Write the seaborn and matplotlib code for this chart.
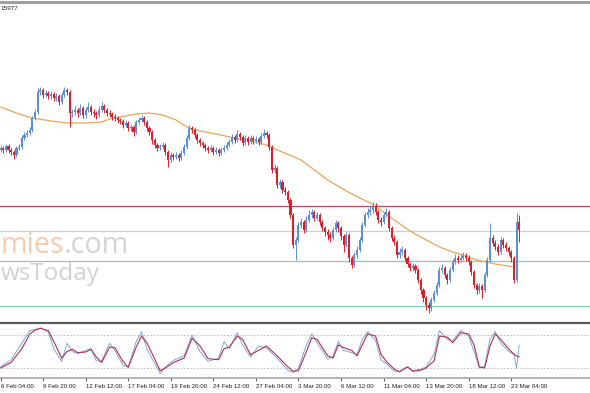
import numpy as np
import pandas as pd
import matplotlib
matplotlib.use("Agg")
import matplotlib.pyplot as plt
import seaborn as sns
from matplotlib.lines import Line2D

# ---------------- data (price in chart points) ----------------
first_open = 180
close = [182,180,184,180,178,175,182,183,192,195,
         197,200,212,218,238,240,235,237,234,236,
         232,234,228,235,240,238,217,218,220,217,
         222,215,220,223,218,217,215,220,224,220,
         217,216,213,212,210,209,205,207,202,203,
         198,208,210,212,208,202,198,190,185,182,
         183,185,178,170,175,173,175,172,177,183,
         192,202,200,195,190,187,185,182,180,182,
         178,180,177,180,182,185,188,193,190,196,
         193,187,192,188,192,189,191,188,194,197,
         195,183,160,162,145,148,140,138,130,115,
         85,90,105,108,100,110,115,118,112,115,
         108,102,98,95,92,100,107,102,94,85,
         95,72,65,75,80,90,105,115,118,120,
         124,118,110,108,115,118,102,92,88,75,
         78,80,72,66,62,64,60,50,40,32,
         25,22,30,37,45,60,62,55,50,60,
         68,72,70,72,74,72,68,58,45,40,
         44,40,55,70,92,87,83,78,90,85,
         82,78,72,50,108,100]
high = [185,184,186,186,182,180,184,186,195,198,
        200,203,214,221,242,243,242,240,239,239,
        238,237,236,238,243,242,240,221,224,222,
        226,224,223,228,225,221,219,224,228,226,
        222,220,218,216,214,212,211,210,209,206,
        205,210,213,215,214,210,204,200,192,187,
        186,188,187,180,178,177,178,177,180,186,
        195,205,204,202,197,192,189,187,184,185,
        184,183,182,183,185,188,191,196,195,200,
        198,195,195,194,195,194,194,193,197,201,
        199,197,185,166,164,151,150,143,140,132,
        117,93,108,112,110,114,120,121,120,118,
        117,110,104,101,98,103,110,109,104,96,
        98,97,74,78,84,93,108,118,122,124,
        128,127,120,113,118,122,120,104,95,90,
        82,84,82,74,68,67,66,62,52,42,
        34,28,33,40,48,63,66,64,57,63,
        71,76,75,76,78,77,75,70,60,47,
        47,46,58,73,107,95,90,86,93,92,
        88,84,80,74,117,115]
low = [178,177,178,177,175,171,173,180,181,190,
       193,195,198,210,216,235,232,233,231,231,
       229,229,225,226,233,235,203,213,215,213,
       215,212,212,218,215,213,211,213,218,217,
       214,213,210,209,207,206,202,203,199,199,
       194,196,206,208,205,199,195,186,182,179,
       180,181,175,163,168,170,171,169,170,175,
       181,190,197,192,187,184,182,179,177,178,
       175,176,174,175,178,180,183,186,187,188,
       190,184,185,185,186,186,187,185,186,192,
       192,180,157,157,142,142,137,135,127,112,
       82,70,88,102,97,98,108,112,109,110,
       105,99,94,90,88,90,98,98,90,78,
       83,68,62,63,72,78,88,103,112,115,
       117,115,107,104,106,113,99,89,85,72,
       72,75,69,63,59,59,57,47,36,28,
       20,17,19,28,35,43,57,52,46,48,
       58,66,67,68,70,69,65,55,42,36,
       37,32,38,53,68,84,80,75,76,82,
       79,75,68,47,48,88]

# moving average (sampled at bar indices)
ma_idx = [0, 4, 8, 12, 19, 25, 32, 38, 41, 45, 51, 56, 61, 66, 70, 75, 81, 88, 94, 100,
          105, 113, 118, 123, 130, 135, 139, 143, 148, 154, 160, 165, 170, 175, 179, 186, 193]
ma_val = [223, 219, 215, 212, 209, 207, 207, 208, 211, 213, 216, 217, 215, 210, 203, 199, 196, 192, 189, 185,
          179, 170, 160, 150, 139, 132, 127, 120, 110, 99, 90, 83, 78, 74, 70, 66, 63]

# horizontal levels
levels = [124, 99, 69, 24]
level_colors = ["#c24b5a", "#cfcfcf", "#86cdb5", "#86cdb5"]

# stochastic oscillator (sampled at bar indices)
st_idx = [0,4,8,11,13,15,18,20,23,25,27,29,32,34,36,38,41,43,46,48,51,53,55,58,60,62,65,69,72,75,78,82,84,86,89,91,94,97,100,104,108,110,112,115,117,119,123,125,127,129,132,134,136,138,141,143,145,148,150,153,155,158,160,163,165,168,170,173,176,178,180,182,184,186,188,191,193,194,195]
st_k = [22,35,65,88,90,93,85,55,32,65,50,46,52,55,33,32,65,52,25,22,68,86,55,28,10,22,34,42,80,50,32,38,68,55,84,62,40,60,56,38,16,12,20,62,82,66,36,42,68,52,48,44,72,86,70,35,28,14,14,22,15,18,22,45,88,72,70,88,78,50,20,24,72,86,66,50,45,20,62]
st_d = [20,30,55,82,89,92,88,68,38,50,54,48,49,54,40,30,58,57,32,21,58,78,66,36,15,20,30,38,74,60,37,35,55,58,78,72,44,52,60,42,22,14,15,50,75,72,42,38,62,57,52,42,62,82,78,45,32,18,13,22,14,16,20,33,78,76,66,84,82,62,22,20,60,82,72,55,45,42,40]

tick_idx = [0, 16, 32, 48, 64, 80, 96, 112, 128, 144, 160, 176, 192]
tick_labels = ["6 Feb 04:00", "9 Feb 20:00", "12 Feb 12:00", "17 Feb 04:00",
               "19 Feb 20:00", "24 Feb 12:00", "27 Feb 04:00", "3 Mar 20:00",
               "6 Mar 12:00", "11 Mar 04:00", "13 Mar 20:00", "18 Mar 12:00",
               "23 Mar 04:00"]

# ---------------- drawing ----------------
sns.set_style("white")
plt.rcParams['font.family'] = ['Liberation Sans', 'DejaVu Sans']

W, H = 590, 393
fig = plt.figure(figsize=(W / 100, H / 100), dpi=100)
fig.patch.set_facecolor("white")

px = 2.66  # pixels per bar
xmin, xmax = -0.2, W / px - 0.2

ax = fig.add_axes([0, 1 - 323 / H, 1, 320 / H])
osc = fig.add_axes([0, 1 - 378 / H, 1, 55 / H])

n = len(close)
x = np.arange(n)
c = np.array(close, float)
o = np.array([first_open] + close[:-1], float)
hi = np.array(high, float)
lo = np.array(low, float)
up = c >= o
up_col, dn_col = "#5b8fdb", "#dc1f2b"
cols = np.where(up, up_col, dn_col)

for lv, lc in zip(levels, level_colors):
    ax.axhline(lv, color=lc, lw=0.9, zorder=1)

ax.vlines(x, lo, hi, colors=cols, lw=0.7, zorder=3)
body = np.maximum(np.abs(c - o), 0.8)
ax.bar(x, body, bottom=np.minimum(o, c), width=0.78, color=cols, linewidth=0, zorder=4)

ma_df = pd.DataFrame({"bar": ma_idx, "ma": ma_val})
sns.lineplot(data=ma_df, x="bar", y="ma", ax=ax, color="#e8a55a", lw=0.9, zorder=2)

ax.set_xlim(xmin, xmax)
ax.set_ylim(7, 327)
ax.set_xticks([]); ax.set_yticks([])
ax.set_xlabel(""); ax.set_ylabel("")
for s in ax.spines.values():
    s.set_visible(False)

# watermark (visible part of the site logo)
wm_family = ["Open Sans", "DejaVu Sans"]
t1 = ax.text(0.5 / px + xmin, 330 - 253, "mies", color="#f6cbab", ha="left",
             fontsize=20.6, va="baseline", family=wm_family, zorder=0)
fig.canvas.draw()
r = fig.canvas.get_renderer()
bb = t1.get_window_extent(r)
x_end = ax.transData.inverted().transform((bb.x1, bb.y0))[0]
ax.text(x_end, 330 - 253, ".com", color="#d4d4d4", ha="left",
        fontsize=20.6, va="baseline", family=wm_family, zorder=0)
ax.text(0.5 / px + xmin, 330 - 280, "wsToday", color="#d2d2d2", ha="left",
        fontsize=17.5, va="baseline", family=wm_family, zorder=0)

# oscillator
osc.axhline(80, color="#b8b8b8", lw=0.6, ls=(0, (2, 2)))
osc.axhline(20, color="#b8b8b8", lw=0.6, ls=(0, (2, 2)))
st_df = pd.DataFrame({"bar": st_idx, "k": st_k, "d": st_d})
sns.lineplot(data=st_df, x="bar", y="k", ax=osc, color="#7fa7dc", lw=0.7)
sns.lineplot(data=st_df, x="bar", y="d", ax=osc, color="#b4304e", lw=0.8)
osc.set_xlim(xmin, xmax)
osc.set_ylim(1.8, 101.8)
osc.set_yticks([])
osc.set_xlabel(""); osc.set_ylabel("")
osc.set_xticks(tick_idx)
osc.set_xticklabels(tick_labels)
osc.tick_params(axis="x", length=2.5, width=0.6, color="#404040", labelsize=4.4,
                pad=1.5, labelcolor="#202020", direction="out", bottom=True)
for lab in osc.get_xticklabels():
    lab.set_ha("left")
for side in ["top", "left", "right"]:
    osc.spines[side].set_visible(False)
osc.spines["bottom"].set_color("#a8a8a8")
osc.spines["bottom"].set_linewidth(1.2)

# separators and header
fig.add_artist(Line2D([0, 1], [1 - 323 / H] * 2, color="#5a5a5a", lw=1.6))
fig.add_artist(Line2D([0, 1], [1 - 1.5 / H] * 2, color="#a0a0a0", lw=2.2))
fig.text(0.0, 1 - 8.5 / H, "15977", fontsize=4.6, ha="left", va="center", color="#202020")

fig.savefig("out.png", dpi=100)
